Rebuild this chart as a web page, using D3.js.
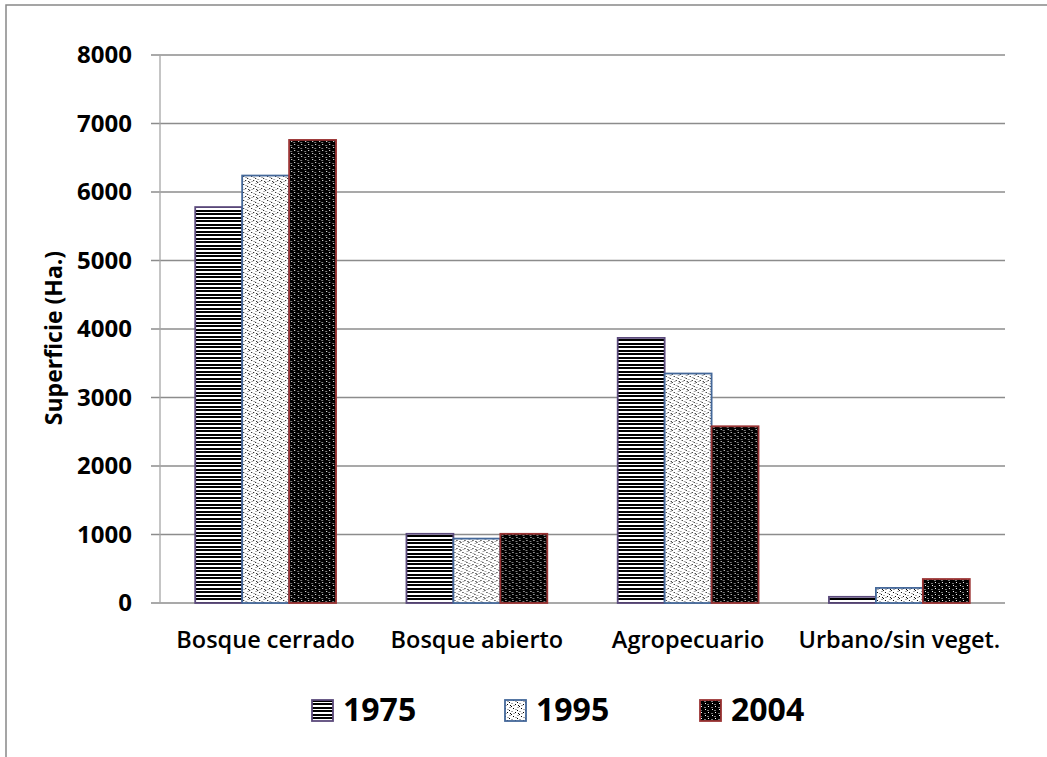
<!DOCTYPE html>
<html>
<head>
<meta charset="utf-8">
<script src="https://cdn.jsdelivr.net/npm/d3@7"></script>
<style>
  html, body { margin: 0; padding: 0; background: #fff; }
  svg { display: block; }
  text { font-family: "Open Sans", "Noto Sans", sans-serif; fill: #000; }
</style>
</head>
<body>
<svg id="chart" width="1047" height="757"></svg>
<script>
// Land-cover surface by class and year
const categories = ["Bosque cerrado", "Bosque abierto", "Agropecuario", "Urbano/sin veget."];
const years = ["1975", "1995", "2004"];
const values1975 = [5780, 1010, 3870, 90];
const values1995 = [6240, 940, 3350, 220];
const values2004 = [6760, 1010, 2580, 350];
const yTicks = [0, 1000, 2000, 3000, 4000, 5000, 6000, 7000, 8000];
const yTitle = "Superficie (Ha.)";

const seriesValues = [values1975, values1995, values2004];
const strokes = ["#5b4a7c", "#44689a", "#9b3434"];

const svg = d3.select("#chart");
const W = 1047, H = 757;
const margin = { left: 160, right: 42, top: 55, bottom: 154 };

// outer frame
svg.append("rect")
  .attr("x", 6).attr("y", 5)
  .attr("width", W + 20).attr("height", H + 20)
  .attr("fill", "none").attr("stroke", "#888").attr("stroke-width", 1.5);

// fill patterns
const defs = svg.append("defs");

// horizontal black stripes
const p1 = defs.append("pattern").attr("id", "pat1975")
  .attr("patternUnits", "userSpaceOnUse").attr("width", 8).attr("height", 7);
p1.append("rect").attr("width", 8).attr("height", 7).attr("fill", "#fff");
p1.append("rect").attr("y", 0).attr("width", 8).attr("height", 2).attr("fill", "#000");
p1.append("rect").attr("y", 3).attr("width", 8).attr("height", 2).attr("fill", "#000");

// light dotted fill
const p2 = defs.append("pattern").attr("id", "pat1995")
  .attr("patternUnits", "userSpaceOnUse").attr("width", 8).attr("height", 8);
p2.append("rect").attr("width", 8).attr("height", 8).attr("fill", "#fff");
[[0, 0], [4, 2], [2, 4], [6, 6], [5, 5]].forEach(([x, y]) =>
  p2.append("rect").attr("x", x).attr("y", y).attr("width", 1).attr("height", 1).attr("fill", "#000"));
[[2, 1], [6, 3], [0, 5], [4, 7]].forEach(([x, y]) =>
  p2.append("rect").attr("x", x).attr("y", y).attr("width", 2).attr("height", 1).attr("fill", "#aaa"));

// dark fill with white dots
const p3 = defs.append("pattern").attr("id", "pat2004")
  .attr("patternUnits", "userSpaceOnUse").attr("width", 7).attr("height", 6);
p3.append("rect").attr("width", 7).attr("height", 6).attr("fill", "#000");
[[1, 0], [5, 3]].forEach(([x, y]) =>
  p3.append("rect").attr("x", x).attr("y", y).attr("width", 1).attr("height", 1).attr("fill", "#fff"));
[[4, 1], [0, 4]].forEach(([x, y]) =>
  p3.append("rect").attr("x", x).attr("y", y).attr("width", 2).attr("height", 1).attr("fill", "#777"));

const fills = ["url(#pat1975)", "url(#pat1995)", "url(#pat2004)"];

// scales
const x0 = d3.scaleBand().domain(categories)
  .range([margin.left, W - margin.right]).paddingInner(0.3333).paddingOuter(0.16667);
const x1 = d3.scaleBand().domain(years).range([0, x0.bandwidth()]);
const y = d3.scaleLinear().domain([0, 8000]).range([H - margin.bottom, margin.top]);

// gridlines
svg.append("g").selectAll("line").data(yTicks).join("line")
  .attr("x1", margin.left - 9).attr("x2", W - margin.right)
  .attr("y1", d => y(d)).attr("y2", d => y(d))
  .attr("stroke", "#8c8c8c").attr("stroke-width", 1.3);

// y axis line
svg.append("line")
  .attr("x1", margin.left).attr("x2", margin.left)
  .attr("y1", y(8000)).attr("y2", y(0))
  .attr("stroke", "#a6a6a6").attr("stroke-width", 1.3);

// y tick labels
svg.append("g").selectAll("text").data(yTicks).join("text")
  .attr("x", 132).attr("y", d => y(d))
  .attr("dy", "0.35em").attr("text-anchor", "end")
  .attr("font-size", 24).attr("font-weight", 700)
  .text(d => d);

// bars
const groups = svg.append("g").selectAll("g").data(categories).join("g")
  .attr("transform", d => `translate(${x0(d)},0)`);
groups.selectAll("rect").data((c, i) => years.map((yr, s) => ({ yr, s, v: seriesValues[s][i] })))
  .join("rect")
  .attr("x", d => x1(d.yr)).attr("width", x1.bandwidth())
  .attr("y", d => y(d.v)).attr("height", d => y(0) - y(d.v))
  .attr("fill", d => fills[d.s]).attr("stroke", d => strokes[d.s]).attr("stroke-width", 1.8);

// category labels
svg.append("g").selectAll("text").data(categories).join("text")
  .attr("x", d => x0(d) + x0.bandwidth() / 2).attr("y", 648)
  .attr("text-anchor", "middle").attr("font-size", 23.5).attr("font-weight", 600)
  .text(d => d);

// y axis title
svg.append("text")
  .attr("transform", "translate(62,338) rotate(-90)")
  .attr("text-anchor", "middle").attr("font-size", 23).attr("font-weight", 700)
  .text(yTitle);

// legend
const legendX = [312, 505, 700];
const leg = svg.append("g").selectAll("g").data(years).join("g")
  .attr("transform", (d, i) => `translate(${legendX[i]},700)`);
leg.append("rect").attr("width", 21).attr("height", 21)
  .attr("fill", (d, i) => fills[i]).attr("stroke", (d, i) => strokes[i]).attr("stroke-width", 1.8);
leg.append("text").attr("x", 31).attr("y", 21)
  .attr("font-size", 32).attr("font-weight", 700).text(d => d);
</script>
</body>
</html>
